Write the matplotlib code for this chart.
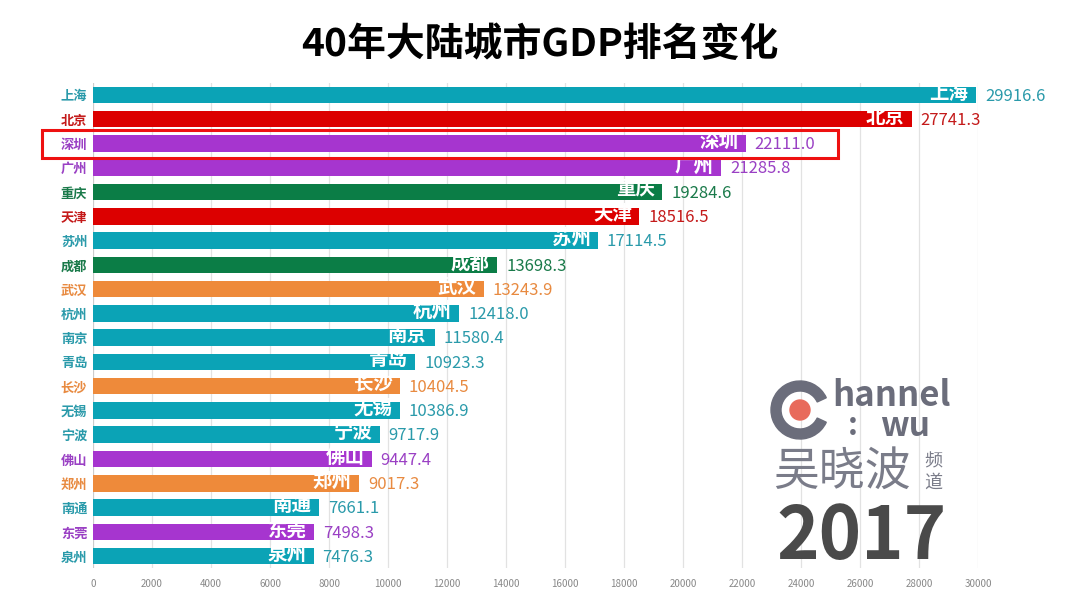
import matplotlib
matplotlib.use("Agg")
import matplotlib.pyplot as plt
from matplotlib.patches import Rectangle, Circle, Wedge

plt.rcParams['font.family'] = ['Noto Sans CJK SC', 'DejaVu Sans']

cities = ["上海", "北京", "深圳", "广州", "重庆", "天津", "苏州", "成都", "武汉", "杭州",
          "南京", "青岛", "长沙", "无锡", "宁波", "佛山", "郑州", "南通", "东莞", "泉州"]
gdp = [29916.6, 27741.3, 22111.0, 21285.8, 19284.6, 18516.5, 17114.5, 13698.3, 13243.9, 12418.0,
       11580.4, 10923.3, 10404.5, 10386.9, 9717.9, 9447.4, 9017.3, 7661.1, 7498.3, 7476.3]
groups = ["teal", "red", "purple", "purple", "green", "red", "teal", "green", "orange", "teal",
          "teal", "teal", "orange", "teal", "teal", "purple", "orange", "teal", "purple", "teal"]
palette = {"teal": "#0ba3b6", "red": "#dc0000", "purple": "#a635cf",
           "green": "#0b7d46", "orange": "#ee8a3a"}
text_palette = {"teal": "#2a9aaa", "red": "#c41a1a", "purple": "#9a40c4",
                "green": "#1a7a4a", "orange": "#e88a40"}
xticks = list(range(0, 30001, 2000))
year = "2017"
title = "40年大陆城市GDP排名变化"

fig = plt.figure(figsize=(10.8, 6.09), dpi=100)
ax = fig.add_axes([0.086, 0.067, 0.820, 0.797])

colors = [palette[g] for g in groups]
tcolors = [text_palette[g] for g in groups]
y = list(range(len(cities)))
ax.barh(y, gdp, height=0.68, color=colors, zorder=2)
ax.set_ylim(len(cities) - 0.5, -0.5)
ax.set_xlim(0, 30000)
ax.set_xticks(xticks)
ax.set_xticklabels([str(t) for t in xticks], fontsize=7, color="#888888")
ax.set_yticks(y)
ax.set_yticklabels(cities, fontsize=9.5, fontweight="bold")
for lbl, c in zip(ax.get_yticklabels(), tcolors):
    lbl.set_color(c)
ax.tick_params(axis="both", length=0, pad=4)
ax.tick_params(axis="x", pad=8)
for s in ax.spines.values():
    s.set_visible(False)
ax.axvline(0, color="#cccccc", lw=0.8, zorder=1)
ax.grid(axis="x", color="#e2e2e2", lw=0.9, zorder=0)
ax.set_axisbelow(True)

for yi, v, c, name in zip(y, gdp, tcolors, cities):
    ax.text(v - 250, yi - 0.08, name, ha="right", va="center", fontsize=14,
            color="white", fontweight="semibold", zorder=3)
    ax.text(v + 300, yi + 0.05, f"{v:.1f}", ha="left", va="center", fontsize=12,
            color=c, zorder=3)

# highlight box around 深圳
fig.patches.append(Rectangle((42 / 1080, 1 - 158 / 609), (838 - 42) / 1080, 28 / 609,
                             transform=fig.transFigure, fill=False, edgecolor="#ee1111",
                             lw=2.2, zorder=10))

fig.text(0.5, 1 - 44 / 609, title, ha="center", va="center", fontsize=28,
         fontweight="bold", color="black")

# logo
lax = fig.add_axes([768 / 1080, 1 - 500 / 609, 185 / 1080, 125 / 609])
lax.set_xlim(0, 185)
lax.set_ylim(0, 125)
lax.axis("off")
lax.add_patch(Wedge((32, 90), 29, 25, 335, width=10, color="#6b6d7b"))
lax.add_patch(Circle((32, 90), 10, color="#e86a5b"))
lax.text(64, 105, "hannel", fontsize=25, fontweight="bold", color="#6b6d7b",
         ha="left", va="center")
lax.text(80, 74, ":", fontsize=22, fontweight="bold", color="#6b6d7b",
         ha="left", va="center")
lax.text(112, 74, "wu", fontsize=24, fontweight="bold", color="#6b6d7b",
         ha="left", va="center")
lax.text(5, 28, "吴晓波", fontsize=33, color="#7a7c89", ha="left", va="center")
lax.text(156, 39, "频", fontsize=13, color="#7a7c89", ha="left", va="center")
lax.text(156, 17, "道", fontsize=13, color="#7a7c89", ha="left", va="center")

fig.text(862 / 1080, 1 - 538 / 609, year, ha="center", va="center", fontsize=52,
         fontweight="bold", color="#4a4a4a")

fig.savefig("out.png", dpi=100)
